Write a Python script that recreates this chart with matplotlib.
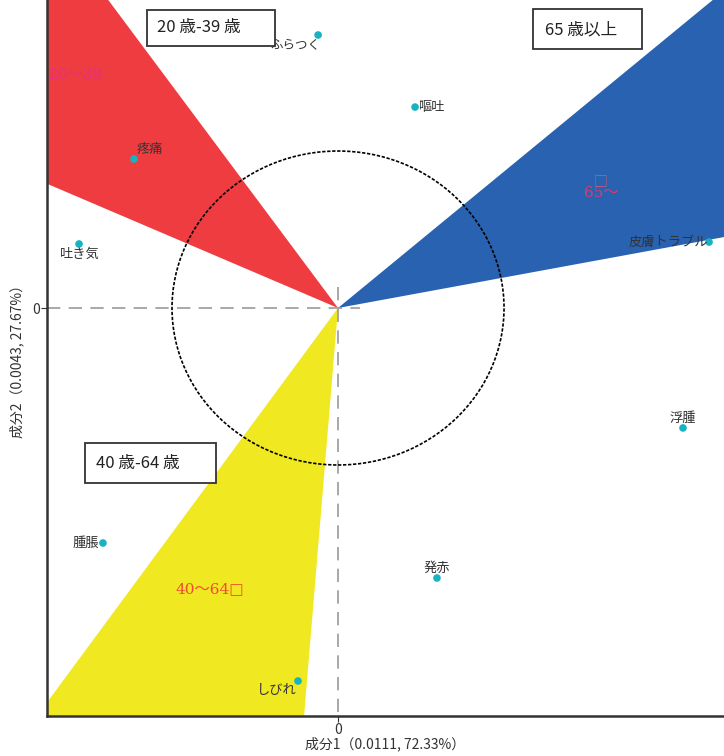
import numpy as np
import matplotlib
matplotlib.use('Agg')
import matplotlib.pyplot as plt
from matplotlib.patches import Polygon, Ellipse, Rectangle

plt.rcParams['font.family'] = ['Noto Sans CJK JP', 'DejaVu Sans']

# symptom coordinates (component 1, component 2)
symptoms = ['ふらつく', '嘔吐', '疼痛', '吐き気', '皮膚トラブル', '浮腫', '腫脹', '発赤', 'しびれ']
dim1 = [-0.120, 0.464, -1.229, -1.560, 2.235, 2.078, -1.416, 0.596, -0.241]
dim2 = [1.739, 1.280, 0.949, 0.408, 0.420, -0.764, -1.497, -1.720, -2.376]

# age group wedges: start / end angle in degrees
groups = ['20～39', '65～', '40～64']
wedge_from = [125.2, 11.0, 235.1]
wedge_to = [155.7, 41.0, 265.5]
wedge_colors = ['#ee3c41', '#2962b0', '#f0e820']
group_x = [-1.741, 1.584, -0.771]
group_y = [1.484, 0.732, -1.790]
group_text_colors = ['#e8307a', '#d83c70', '#f04a30']

box_labels = ['20 歳-39 歳', '65 歳以上', '40 歳-64 歳']

xlab = '成分1（0.0111, 72.33%）'
ylab = '成分2（0.0043, 27.67%）'

fig = plt.figure(figsize=(7.24, 7.56), dpi=100)
ax = fig.add_axes([47/724, 40/756, 677/724, 716/756])
ax.set_xlim(-1.753, 2.325)
ax.set_ylim(-2.599, 1.962)

# wedges
R = 20
for a0, a1, c in zip(wedge_from, wedge_to, wedge_colors):
    t = np.radians([a0, a1])
    pts = [(0, 0), (R*np.cos(t[0]), R*np.sin(t[0])), (R*np.cos(t[1]), R*np.sin(t[1]))]
    ax.add_patch(Polygon(pts, closed=True, facecolor=c, edgecolor='none', zorder=1))

# reference lines (short segments through the origin)
ax.plot([-1.753, 0.133], [0, 0], color='#999999', lw=1.2, ls=(0, (8, 5)), zorder=2)
ax.plot([0, 0], [0.134, -2.599], color='#999999', lw=1.2, ls=(0, (8, 5)), zorder=2)

# unit circle
ax.add_patch(Ellipse((0, 0), 2, 2, fill=False, edgecolor='black', lw=1.2,
                     ls=(0, (2, 1)), zorder=3))

# group labels inside wedges
ax.text(group_x[0], group_y[0], groups[0], color=group_text_colors[0], fontsize=11,
        family=['DejaVu Serif', 'Noto Sans CJK JP'], ha='left', va='center', zorder=4)
ax.text(group_x[1], group_y[1], groups[1], color=group_text_colors[1], fontsize=11,
        family=['DejaVu Serif', 'Noto Sans CJK JP'], ha='center', va='center', zorder=4)
ax.text(group_x[1], group_y[1] + 0.075, '□', color='#c06080', fontsize=10,
        ha='center', va='center', zorder=4)
ax.text(group_x[2], group_y[2], groups[2] + '□', color=group_text_colors[2], fontsize=11,
        family=['DejaVu Serif', 'Noto Sans CJK JP'], ha='center', va='center', zorder=4)

# symptom points
ax.scatter(dim1, dim2, s=30, color='#17b3c0', zorder=5, edgecolor='none')
offsets = {
    'ふらつく': (2, -2, 'right', 'top'),
    '嘔吐': (2, 0, 'left', 'center'),
    '疼痛': (2, 2, 'left', 'bottom'),
    '吐き気': (0, -3, 'center', 'top'),
    '皮膚トラブル': (-1, 0, 'right', 'center'),
    '浮腫': (0, 2, 'center', 'bottom'),
    '腫脹': (-3, 0, 'right', 'center'),
    '発赤': (0, 2, 'center', 'bottom'),
    'しびれ': (-1, -2, 'right', 'top'),
}
for name, x, y in zip(symptoms, dim1, dim2):
    dx, dy, ha, va = offsets[name]
    ax.annotate(name, (x, y), xytext=(dx, dy), textcoords='offset points',
                ha=ha, va=va, fontsize=9 if name == 'ふらつく' else 9.5,
                color='#333333', zorder=10)

# group boxes
boxes = [(0.148, 0.936, 0.189, 0.050, 0.162, 0.961),
         (0.718, 0.932, 0.161, 0.055, 0.736, 0.958),
         (0.056, 0.325, 0.194, 0.056, 0.072, 0.352)]
for lab, (bx, by, bw, bh, tx, ty) in zip(box_labels, boxes):
    ax.add_patch(Rectangle((bx, by), bw, bh, transform=ax.transAxes, facecolor='white',
                           edgecolor='#333333', lw=1.3, zorder=7))
    ax.text(tx, ty, lab, transform=ax.transAxes, fontsize=12, color='#222222',
            ha='left', va='center', zorder=8)

for s in ['top', 'right']:
    ax.spines[s].set_visible(False)
for s in ['left', 'bottom']:
    ax.spines[s].set_linewidth(1.8)
    ax.spines[s].set_color('#333333')
    ax.spines[s].set_zorder(9)

ax.set_xticks([0])
ax.set_yticks([0])
ax.tick_params(labelsize=10, colors='#333333', length=4, pad=1)
ax.set_xlabel(xlab, fontsize=10, color='#333333', labelpad=0)
ax.set_ylabel(ylab, fontsize=10, color='#333333', labelpad=6)

fig.savefig('out.png', dpi=100)
